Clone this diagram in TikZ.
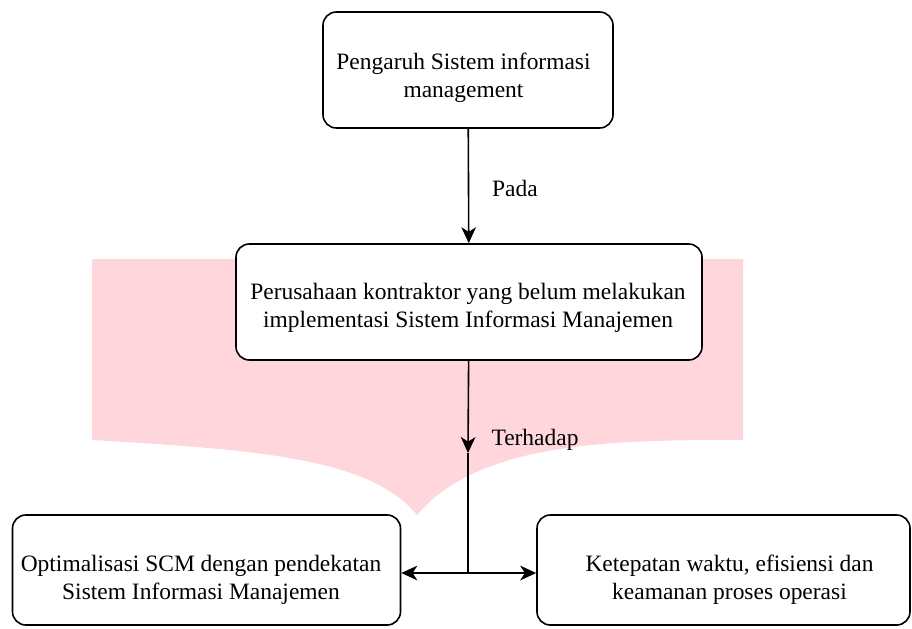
\documentclass[tikz,border=0pt]{standalone}
\usepackage{fontspec}
\setmainfont{Liberation Serif}
\usetikzlibrary{arrows.meta}

\definecolor{bannerpink}{RGB}{255,214,220}
\tikzset{every picture/.style={line width=0.75pt}}
\tikzset{
  box/.style={draw, rounded corners=10pt, fill=white, line width=1.2pt, inner sep=0pt},
  boxtext/.style={align=center, inner sep=0.75pt, font=\fontsize{17.6}{21}\selectfont},
  lbl/.style={inner sep=0.75pt, font=\fontsize{17.6}{21}\selectfont},
  arr/.style={-{Stealth[length=12pt,width=11pt,inset=3.5pt]}, line width=1.2pt},
  wire/.style={line width=1.2pt},
}

\begin{document}
\begin{tikzpicture}[x=0.75pt,y=0.75pt,yscale=-1]
\useasboundingbox (0,0) rectangle (912,628);

%Shape: Banner
\fill[bannerpink] (92,259) -- (743,259) -- (743,440) .. controls (620,440) and (480,440) .. (417,515) .. controls (370,458) and (260,450) .. (92,440) -- cycle ;

%Shape: Rounded Rect
\node[box, minimum width=217.5pt, minimum height=87pt] (pengaruh) at (468,70) {};
%Shape: Rounded Rect
\node[box, minimum width=349.5pt, minimum height=87pt] (perusahaan) at (469,302) {};
%Shape: Rounded Rect
\node[box, minimum width=291pt, minimum height=82.5pt] (optimalisasi) at (206.5,570) {};
%Shape: Rounded Rect
\node[box, minimum width=279.75pt, minimum height=82.5pt] (ketepatan) at (723.5,570) {};

\coordinate (tip) at (468,453);
\coordinate (split) at (468,573);

%Straight Lines
\draw[arr] (pengaruh) -- (perusahaan);
\draw[arr] (perusahaan) -- (tip);
\draw[wire] (tip) -- (split);
\draw[arr] (split) -- (split -| optimalisasi.east);
\draw[arr] (split) -- (split -| ketepatan.west);

% Text Node
\node[boxtext] (pengaruh-txt) at (463.5,78) {Pengaruh Sistem informasi\\management};
% Text Node
\node[boxtext] (perusahaan-txt) at (468,308) {Perusahaan kontraktor yang belum melakukan\\implementasi Sistem Informasi Manajemen};
% Text Node
\node[boxtext] (optimalisasi-txt) at (201,580) {Optimalisasi SCM dengan pendekatan\\Sistem Informasi Manajemen};
% Text Node
\node[boxtext] (ketepatan-txt) at (729.5,580) {Ketepatan waktu, efisiensi dan\\keamanan proses operasi};
% Text Node
\node[lbl] (pada) at (515,188) {Pada};
% Text Node
\node[lbl] (terhadap) at (535,440) {Terhadap};

\end{tikzpicture}
\end{document}
